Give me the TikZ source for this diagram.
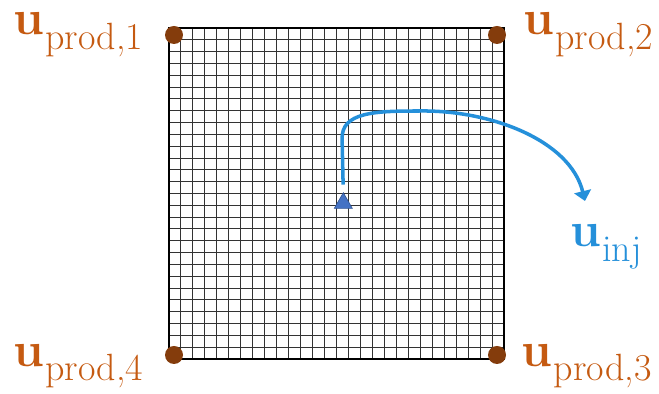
\documentclass[tikz,border=0pt]{standalone}
\usepackage{tkz-euclide}
\usetikzlibrary{arrows.meta,calc,shapes.geometric}
\definecolor{ProdClr}{HTML}{C55A11}
\definecolor{WellClr}{HTML}{843C0C}
\definecolor{InjClr}{HTML}{2590DA}
\definecolor{MarkClr}{HTML}{4472C4}
\definecolor{MarkEdge}{HTML}{2F528F}

\newcommand{\wellname}[1]{{\fontsize{35}{35}\selectfont\bfseries u}\kern1pt\raisebox{-10pt}{\fontsize{27}{27}\selectfont #1}}

\tikzset{
  gridline/.style={line width=0.75pt,color=black!80},
  well/.style={circle,fill=WellClr,minimum size=0.45cm,inner sep=0pt},
  welllabel/.style={anchor=base west,inner sep=0pt,text=ProdClr},
}

\begin{document}
\begin{tikzpicture}
\useasboundingbox (0,0) rectangle (16.475,9.85);

\tkzDefPoints{4.225/0.875/A,12.6/0.875/B,12.6/9.15/C,4.225/9.15/D}

% reservoir grid 28 x 28
\foreach \i in {1,...,27}{
  \draw[gridline] ($(A)!\i/28!(B)$) -- ($(D)!\i/28!(C)$);
  \draw[gridline] ($(A)!\i/28!(D)$) -- ($(B)!\i/28!(C)$);
}
\draw[line width=1.4pt] (A) -- (B) -- (C) -- (D) -- cycle;

% producers
\node[well] (w1) at (4.35,8.975) {};
\node[well] (w2) at (12.425,8.975) {};
\node[well] (w3) at (12.425,0.975) {};
\node[well] (w4) at (4.35,0.975) {};

\node[welllabel] (l1) at (0.325,8.975) {\wellname{prod,1}};
\node[welllabel] (l2) at (13.075,8.975) {\wellname{prod,2}};
\node[welllabel] (l3) at (13.0375,0.6875) {\wellname{prod,3}};
\node[welllabel] (l4) at (0.325,0.6875) {\wellname{prod,4}};

% injector
\node[regular polygon,regular polygon sides=3,minimum size=0.52cm,inner sep=0pt,
      fill=MarkClr,draw=MarkEdge,line width=0.4pt] (inj) at (8.5825,4.7725) {};
\coordinate (tip) at (14.625,4.825);
\draw[InjClr,line width=2.5pt,shorten <=0.19cm,-{Triangle[width=0.425cm,length=0.25cm]}]
  (inj.north) -- ++(-0.03,1.32)
  .. controls (8.525,7.05) and (9.375,7.075) .. (10.5,7.075)
  .. controls (12.25,7.1) and (14.25,6.35) .. (tip);

\node[welllabel,text=InjClr] (linj) at (14.25,3.675) {\wellname{inj}};

\end{tikzpicture}
\end{document}
